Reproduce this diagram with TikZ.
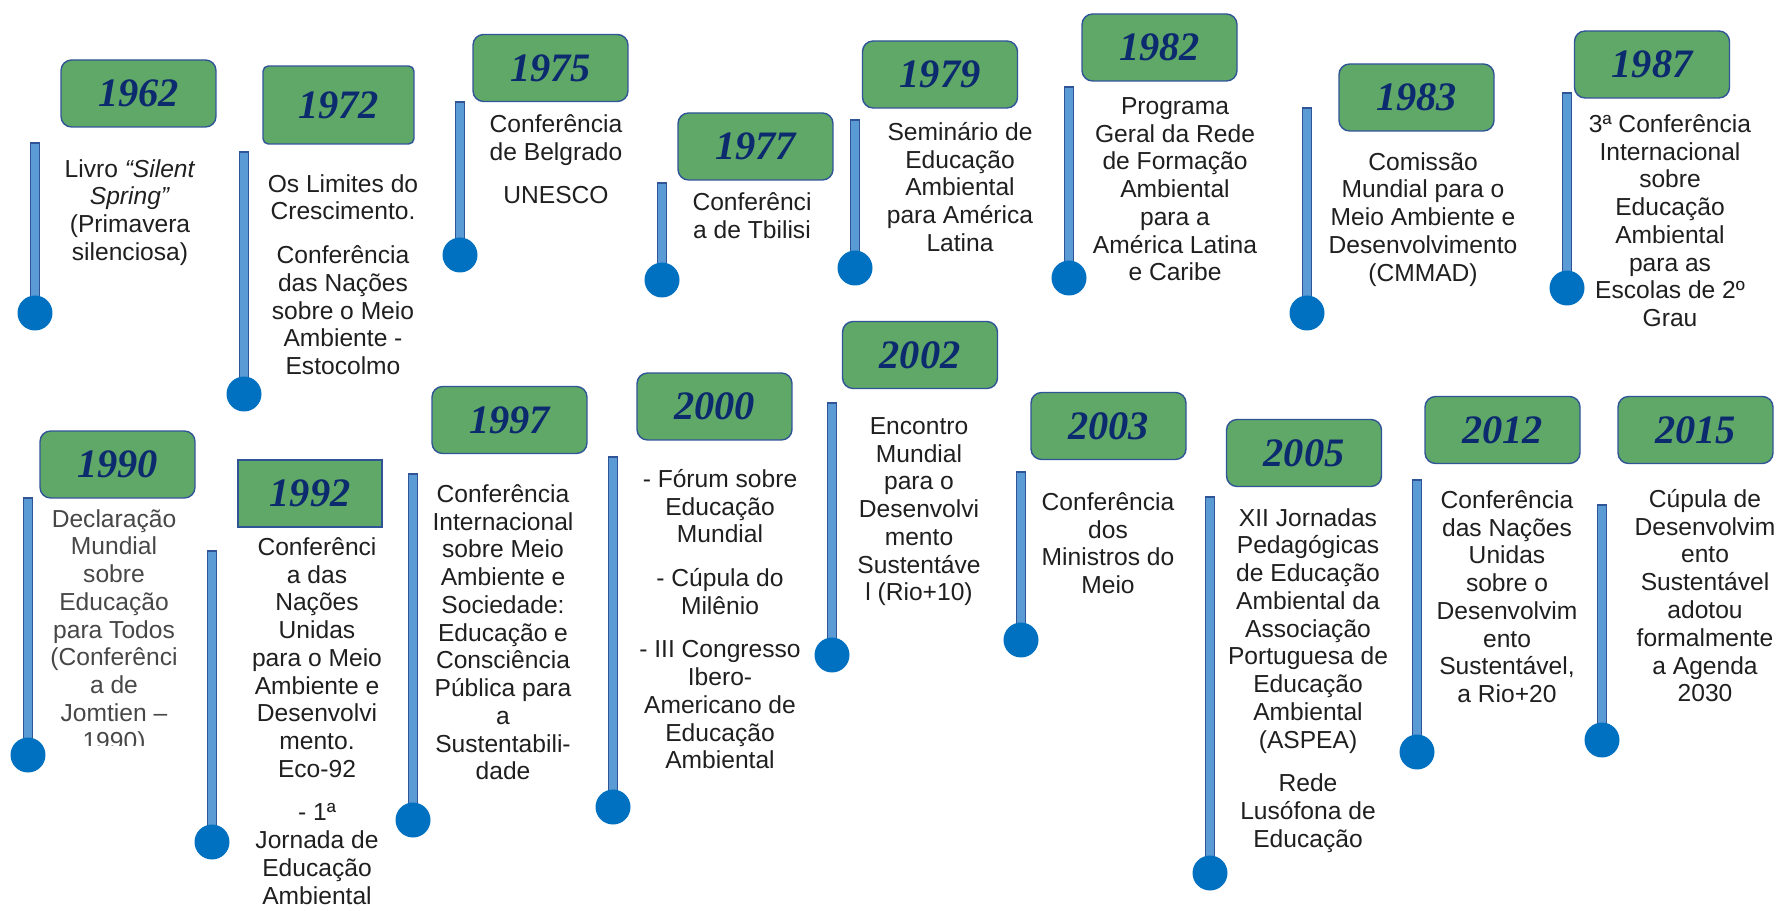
\documentclass[tikz,border=0pt]{standalone}
\usepackage{fontspec}
\setmainfont{Liberation Sans}
\newfontfamily\yearfont{Liberation Serif}
\usepackage{tikz}
\definecolor{boxgreen}{RGB}{96,168,104}
\definecolor{boxline}{RGB}{47,85,151}
\definecolor{yearblue}{RGB}{12,42,110}
\definecolor{stemblue}{RGB}{91,155,213}
\definecolor{dotblue}{RGB}{0,112,192}

\begin{document}
\begin{tikzpicture}[x=0.02cm,y=-0.02cm,
  yearbox/.style={draw=boxline, line width=0.8pt, fill=boxgreen, rounded corners=6pt,
    minimum width=3.1cm, minimum height=1.34cm, inner sep=0pt, text=yearblue,
    font=\yearfont\bfseries\itshape\fontsize{23}{23}\selectfont},
  evtext/.style={anchor=north, align=center, inner sep=0pt, text=black!88,
    font=\fontsize{14}{15.8}\selectfont},
  stem/.style={draw=boxline, line width=0.6pt, fill=stemblue},
  dot/.style={circle, fill=dotblue, minimum size=0.7cm, inner sep=0pt}]
\useasboundingbox (0,0) rectangle (1780,911);
%stems and dots
\foreach \n/\sx/\st/\dy in {1962/35/143/313, 1972/244/152/394, 1975/460/102/255,
  1977/662/183/280, 1979/855/120/268, 1982/1069/87/278, 1983/1307/108/313,
  1987/1567/93/288, 1990/28/498/755, 1992/212/551/842, 1997/413/474/820,
  2000/613/457/807, 2002/832/403/655, 2003/1021/472/640, 2005/1210/497/873,
  2012/1417/480/752, 2015/1602/505/740}{
	\coordinate (s\n) at (\sx,\st);
	\coordinate (b\n) at (\sx,\dy);
	\draw [stem] ([xshift=-2.4pt]s\n) rectangle ([xshift=2.4pt]b\n);
	\node [dot] (d\n) at (b\n) {};
}
%top row
\node [yearbox] (y1962) at (138.5,93.5) {1962};
\node [evtext] (t1962) at (130,159) {Livro \textit{“Silent}\\\textit{Spring”}\\(Primavera\\silenciosa)};
\node [yearbox, rounded corners=3pt, minimum width=3.02cm, minimum height=1.56cm] (y1972) at (338.5,105) {1972};
\node [evtext] (t1972) at (343,174) {Os Limites do\\Crescimento.\\[9pt]Conferência\\das Nações\\sobre o Meio\\Ambiente -\\Estocolmo};
\node [yearbox] (y1975) at (550.5,68) {1975};
\node [evtext] (t1975) at (556,114) {Conferência\\de Belgrado\\[9pt]UNESCO};
\node [yearbox] (y1977) at (755.5,146.5) {1977};
\node [evtext] (t1977) at (752,192) {Conferênci\\a de Tbilisi};
\node [yearbox] (y1979) at (940,74.5) {1979};
\node [evtext] (t1979) at (960,122) {Seminário de\\Educação\\Ambiental\\para América\\Latina};
\node [yearbox] (y1982) at (1159.5,47.5) {1982};
\node [evtext] (t1982) at (1175,97) {Programa\\Geral da Rede\\de Formação\\Ambiental\\para a\\América Latina\\e Caribe};
\node [yearbox] (y1983) at (1416.5,97.5) {1983};
\node [evtext] (t1983) at (1423,152) {Comissão\\Mundial para o\\Meio Ambiente e\\Desenvolvimento\\(CMMAD)};
\node [yearbox] (y1987) at (1652,64.5) {1987};
\node [evtext] (t1987) at (1670,114) {3ª Conferência\\Internacional\\sobre\\Educação\\Ambiental\\para as\\Escolas de 2º\\Grau};
%bottom row
\node [yearbox] (y1990) at (117.5,464.5) {1990};
\begin{scope}
\clip (50,500) rectangle (180,745);
\node [evtext, text=black!72] (t1990) at (114,509) {Declaração\\Mundial\\sobre\\Educação\\para Todos\\(Conferênci\\a de\\Jomtien –\\1990)};
\end{scope}
\node [yearbox, sharp corners, minimum width=2.88cm] (y1992) at (310,493.5) {1992};
\node [evtext] (t1992) at (317,537) {Conferênci\\a das\\Nações\\Unidas\\para o Meio\\Ambiente e\\Desenvolvi\\mento.\\Eco-92\\[9pt]- 1ª\\Jornada de\\Educação\\Ambiental};
\node [yearbox] (y1997) at (509.5,420) {1997};
\node [evtext] (t1997) at (503,484) {Conferência\\Internacional\\sobre Meio\\Ambiente e\\Sociedade:\\Educação e\\Consciência\\Pública para\\a\\Sustentabili-\\dade};
\node [yearbox] (y2000) at (714.5,406.5) {2000};
\node [evtext] (t2000) at (720,469) {- Fórum sobre\\Educação\\Mundial\\[9pt]- Cúpula do\\Milênio\\[9pt]- III Congresso\\Ibero-\\Americano de\\Educação\\Ambiental};
\node [yearbox] (y2002) at (920,355) {2002};
\node [evtext] (t2002) at (919,417) {Encontro\\Mundial\\para o\\Desenvolvi\\mento\\Sustentáve\\l (Rio+10)};
\node [yearbox] (y2003) at (1108.5,426) {2003};
\node [evtext] (t2003) at (1108,492) {Conferência\\dos\\Ministros do\\Meio};
\node [yearbox] (y2005) at (1304,453) {2005};
\node [evtext] (t2005) at (1308,508) {XII Jornadas\\Pedagógicas\\de Educação\\Ambiental da\\Associação\\Portuguesa de\\Educação\\Ambiental\\(ASPEA)\\[9pt]Rede\\Lusófona de\\Educação};
\node [yearbox] (y2012) at (1502.5,430) {2012};
\node [evtext] (t2012) at (1507,490) {Conferência\\das Nações\\Unidas\\sobre o\\Desenvolvim\\ento\\Sustentável,\\a Rio+20};
\node [yearbox] (y2015) at (1695.5,430) {2015};
\node [evtext] (t2015) at (1705,489) {Cúpula de\\Desenvolvim\\ento\\Sustentável\\adotou\\formalmente\\a Agenda\\2030};
\end{tikzpicture}
\end{document}
